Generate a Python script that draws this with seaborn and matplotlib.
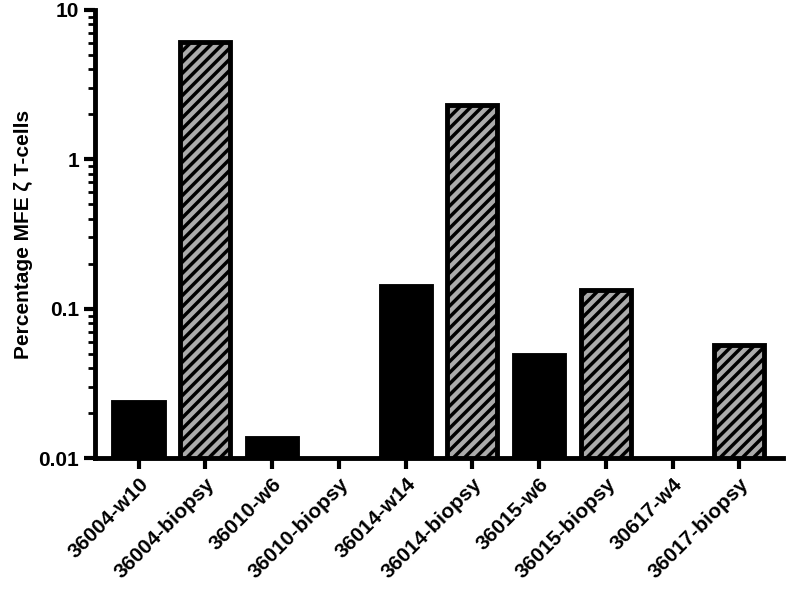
import matplotlib
matplotlib.use("Agg")
import matplotlib.pyplot as plt
import seaborn as sns
import numpy as np
import pandas as pd
from matplotlib.ticker import FixedLocator, LogLocator, NullFormatter

categories = ["36004-w10", "36004-biopsy", "36010-w6", "36010-biopsy", "36014-w14",
              "36014-biopsy", "36015-w6", "36015-biopsy", "30617-w4", "36017-biopsy"]
values = [0.0237, 6.1, 0.0136, np.nan, 0.142, 2.31, 0.049, 0.133, np.nan, 0.057]
sample_type = ["blood", "biopsy"] * 5

sns.set_style("ticks")
plt.rcParams["font.family"] = ["Liberation Sans", "DejaVu Sans"]
plt.rcParams["hatch.linewidth"] = 2.5
plt.rcParams["axes.edgecolor"] = "black"
plt.rcParams["xtick.color"] = "black"
plt.rcParams["ytick.color"] = "black"
plt.rcParams["text.color"] = "black"
plt.rcParams["axes.labelcolor"] = "black"

df = pd.DataFrame({"cat": categories, "val": values, "type": sample_type})
fig = plt.figure(figsize=(7.86, 6.11), dpi=100)
ax = fig.add_axes([0.121, 0.25, 0.875, 0.734])
sns.barplot(data=df, x="cat", y="val", hue="type", dodge=False, ax=ax,
            palette={"blood": "black", "biopsy": "#ababab"}, width=0.75,
            legend=False, edgecolor="black", linewidth=3.5, saturation=1)
ax.set_yscale("log")
ax.set_ylim(0.01, 10)
ax.set_xlim(-0.65, 9.65)
for cont in ax.containers:
    for p in cont:
        if tuple(np.round(p.get_facecolor()[:3], 2)) != (0.0, 0.0, 0.0):
            p.set_hatch("///")
ax.yaxis.set_major_locator(FixedLocator([0.01, 0.1, 1, 10]))
ax.set_yticklabels(["0.01", "0.1", "1", "10"], fontweight="bold", fontsize=15)
ax.yaxis.set_minor_locator(LogLocator(base=10, subs=np.arange(2, 10)))
ax.yaxis.set_minor_formatter(NullFormatter())
ax.tick_params(axis="y", which="major", width=3, length=8, colors="black")
ax.tick_params(axis="y", which="minor", width=2, length=5, colors="black")
ax.tick_params(axis="x", width=3, length=8, colors="black")
ax.set_xticks(range(len(categories)))
ax.set_xticklabels(categories, rotation=45, ha="right", rotation_mode="anchor",
                   fontweight="bold", fontsize=15)
ax.set_xlabel("")
ax.set_ylabel("Percentage MFE ζ T-cells", fontweight="bold", fontsize=15)
for s in ["left", "bottom"]:
    ax.spines[s].set_linewidth(3.5)
    ax.spines[s].set_color("black")
sns.despine(ax=ax)
fig.savefig("out.png", dpi=100)
